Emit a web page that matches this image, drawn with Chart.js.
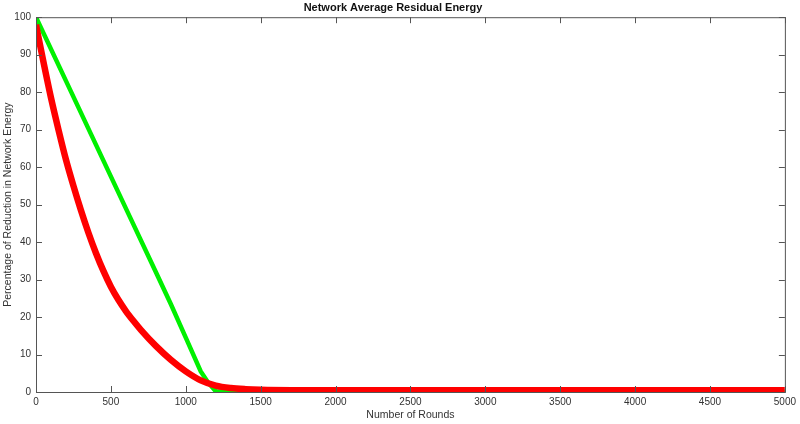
<!DOCTYPE html>
<html>
<head>
<meta charset="utf-8">
<script src="https://cdn.jsdelivr.net/npm/chart.js@4.4.0/dist/chart.umd.min.js"></script>
<style>
	html, body { margin: 0; padding: 0; background: #fff; }
	#wrap { width: 800px; height: 424px; }
</style>
</head>
<body>
<div id="wrap"><canvas id="graph"></canvas></div>
<script>
// rounds and values
const roundsGreen = [0, 200, 400, 600, 800, 900, 1000, 1100, 1150, 1200, 1500, 2000, 2500, 3000, 3500, 4000, 4500, 5000];
const valuesGreen = [100, 83, 66, 49, 32, 23.5, 14.5, 5.5, 2.5, 0.2, 0.1, 0.1, 0.1, 0.1, 0.1, 0.1, 0.1, 0.1];

const roundsRed = [0, 50, 100, 150, 200, 250, 300, 350, 400, 450, 500, 550, 600, 650, 700, 800, 900, 1000, 1100, 1200, 1300, 1400, 1500, 2000, 3000, 4000, 5000];
const valuesRed = [98, 88, 78.5, 70, 62, 55, 48.5, 42.5, 37.1, 32.3, 28.1, 24.6, 21.6, 19, 16.6, 12.3, 8.6, 5.5, 3.1, 1.7, 1.05, 0.75, 0.6, 0.45, 0.45, 0.45, 0.45];

const xTicks = [0, 500, 1000, 1500, 2000, 2500, 3000, 3500, 4000, 4500, 5000];
const yTicks = [0, 10, 20, 30, 40, 50, 60, 70, 80, 90, 100];

const toPoints = (xs, ys) => xs.map((x, i) => ({ x: x, y: ys[i] }));

// MATLAB style box with inward ticks on all four sides
const boxTicks = {
	id: "boxTicks",
	afterDraw(chart) {
		const ctx = chart.ctx;
		const a = chart.chartArea;
		const sx = chart.scales.x;
		const sy = chart.scales.y;
		ctx.save();
		ctx.strokeStyle = "#555";
		ctx.lineWidth = 1;
		ctx.strokeRect(a.left + 0.5, a.top + 0.5, a.right - a.left, a.bottom - a.top);
		ctx.beginPath();
		xTicks.forEach((v) => {
			const px = Math.round(sx.getPixelForValue(v)) + 0.5;
			ctx.moveTo(px, a.bottom);
			ctx.lineTo(px, a.bottom - 6);
			ctx.moveTo(px, a.top);
			ctx.lineTo(px, a.top + 6);
		});
		yTicks.forEach((v) => {
			const py = Math.round(sy.getPixelForValue(v)) + 0.5;
			ctx.moveTo(a.left, py);
			ctx.lineTo(a.left + 6, py);
			ctx.moveTo(a.right, py);
			ctx.lineTo(a.right - 6, py);
		});
		ctx.stroke();
		ctx.restore();
	},
};

const graph = document.getElementById("graph");
new Chart(graph, {
	type: "line",
	data: {
		datasets: [
			{
				label: "Red",
				data: toPoints(roundsRed, valuesRed),
				borderColor: "#ff0000",
				borderWidth: 6.5,
				pointRadius: 0,
				cubicInterpolationMode: "monotone",
				order: 1,
			},
			{
				label: "Green",
				data: toPoints(roundsGreen, valuesGreen),
				borderColor: "#00f000",
				borderWidth: 4.5,
				pointRadius: 0,
				tension: 0,
				order: 2,
			},
		],
	},
	options: {
		responsive: true,
		maintainAspectRatio: false,
		animation: false,
		layout: { padding: { left: 0, right: 14, top: 0, bottom: 0 } },
		plugins: {
			legend: { display: false },
			tooltip: { enabled: false },
			title: {
				display: true,
				text: "Network Average Residual Energy",
				color: "#111",
				font: { family: "Liberation Sans, Arial", size: 11, weight: "bold" },
				padding: { top: 1, bottom: 3 },
			},
		},
		scales: {
			x: {
				type: "linear",
				min: 0,
				max: 5000,
				afterBuildTicks: (s) => { s.ticks = xTicks.map((v) => ({ value: v })); },
				afterFit: (s) => { s.height = 32; },
				grid: { display: false, drawTicks: false },
				border: { display: false },
				ticks: {
					color: "#333",
					padding: 4,
					maxRotation: 0,
					callback: (v) => String(v),
					font: { family: "Liberation Sans, Arial", size: 10 },
				},
				title: {
					display: true,
					text: "Number of Rounds",
					color: "#333",
					padding: { top: 2, bottom: 3 },
					font: { family: "Liberation Sans, Arial", size: 10.5 },
				},
			},
			y: {
				min: 0,
				max: 100,
				afterBuildTicks: (s) => { s.ticks = yTicks.map((v) => ({ value: v })); },
				afterFit: (s) => { s.width = 36; },
				grid: { display: false, drawTicks: false },
				border: { display: false },
				ticks: {
					color: "#333",
					padding: 5,
					callback: (v) => String(v),
					font: { family: "Liberation Sans, Arial", size: 10 },
				},
				title: {
					display: true,
					text: "Percentage of Reduction in Network Energy",
					color: "#333",
					padding: { top: 2, bottom: 2 },
					font: { family: "Liberation Sans, Arial", size: 10.5 },
				},
			},
		},
	},
	plugins: [boxTicks],
});
</script>
</body>
</html>
